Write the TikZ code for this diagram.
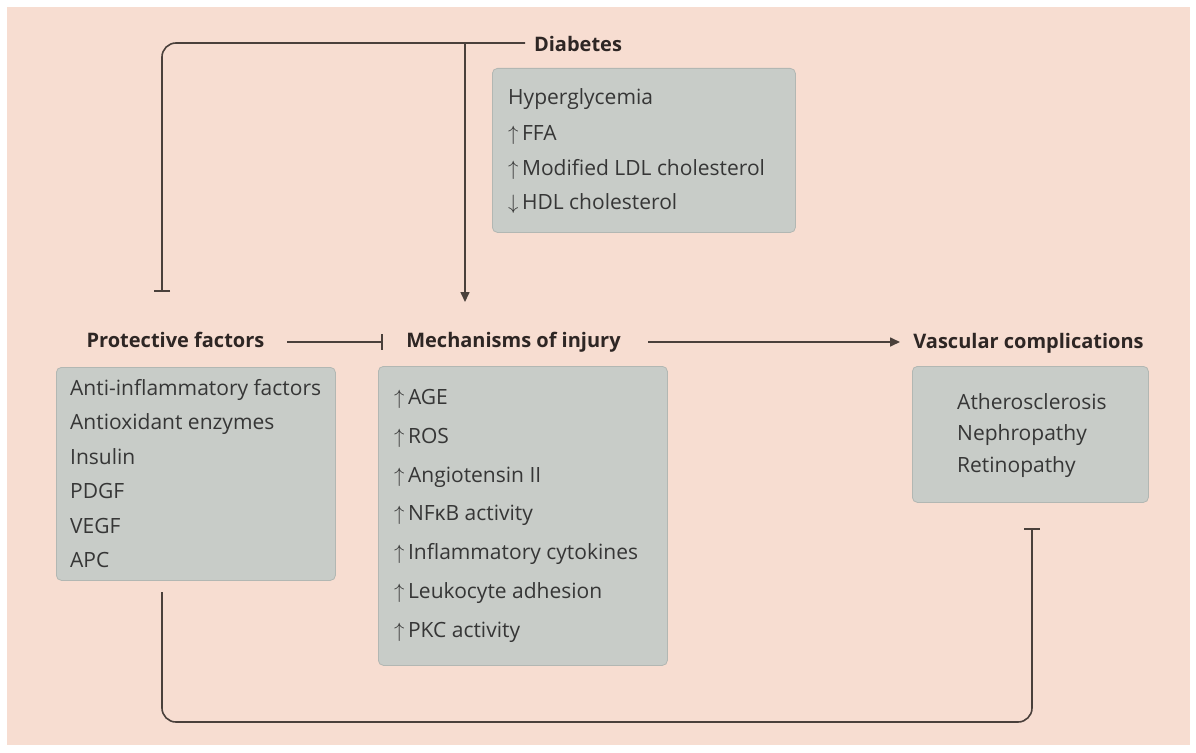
\documentclass[tikz,border=0pt]{standalone}
\usepackage{fontspec}
\setmainfont{Open Sans}
\usetikzlibrary{arrows.meta}
\definecolor{peach}{HTML}{F7DDD1}
\definecolor{boxfill}{HTML}{C8CCC8}
\definecolor{boxline}{HTML}{B2B7B3}
\definecolor{ink}{HTML}{4A403B}
\definecolor{txt}{HTML}{363636}
\definecolor{lblc}{HTML}{2E2624}
\begin{document}
\begin{tikzpicture}[x=1pt,y=-1pt,
  box/.style={draw=boxline, fill=boxfill, rounded corners=5pt, line width=0.8pt, anchor=north west, inner sep=0pt},
  item/.style={anchor=base west, inner sep=0pt, text=txt, font=\fontsize{21}{24}\selectfont},
  lbl/.style={anchor=base, inner sep=0pt, text=lblc, font=\fontsize{20}{24}\selectfont\bfseries},
  conn/.style={draw=ink, line width=1.6pt},
  tip/.style={-{Triangle[length=10pt,width=9pt]}},
  inh/.style={-{Bar[width=16pt]}}
]
\useasboundingbox (0,0) rectangle (1196,752);
\fill[white] (0,0) rectangle (1196,752);
\fill[peach] (7,7) rectangle (1190,745);

% boxes
\node[box, minimum width=303pt, minimum height=164pt] (dbox) at (492,68) {};
\node[box, minimum width=279pt, minimum height=213pt] (pbox) at (56,367) {};
\node[box, minimum width=289pt, minimum height=299pt] (mbox) at (378,366) {};
\node[box, minimum width=236pt, minimum height=136pt] (vbox) at (912,366) {};

% labels
\node[lbl] (dia) at (578,52) {Diabetes};
\node[lbl] (prot) at (175.5,347) {Protective factors};
\node[lbl] (mech) at (513.5,347) {Mechanisms of injury};
\node[lbl] (vasc) at (1028.5,348) {Vascular complications};

% diabetes items
\node[item] (d1) at (508,104) {Hyperglycemia};
\node[item] (d2) at (508,140) {$\uparrow$\,FFA};
\node[item] (d3) at (508,175) {$\uparrow$\,Modified LDL cholesterol};
\node[item] (d4) at (508,209) {$\downarrow$\,HDL cholesterol};

% protective items
\node[item] (p1) at (70,395) {Anti-inflammatory factors};
\node[item] (p2) at (70,429.5) {Antioxidant enzymes};
\node[item] (p3) at (70,464) {Insulin};
\node[item] (p4) at (70,498.5) {PDGF};
\node[item] (p5) at (70,533) {VEGF};
\node[item] (p6) at (70,567.5) {APC};

% mechanisms items
\node[item] (m1) at (394,404) {$\uparrow$\,AGE};
\node[item] (m2) at (394,443) {$\uparrow$\,ROS};
\node[item] (m3) at (394,482) {$\uparrow$\,Angiotensin II};
\node[item] (m4) at (394,520.5) {$\uparrow$\,NFκB activity};
\node[item] (m5) at (394,559) {$\uparrow$\,Inflammatory cytokines};
\node[item] (m6) at (394,598) {$\uparrow$\,Leukocyte adhesion};
\node[item] (m7) at (394,637) {$\uparrow$\,PKC activity};

% vascular items
\node[item] (v1) at (957,409) {Atherosclerosis};
\node[item] (v2) at (957,440.5) {Nephropathy};
\node[item] (v3) at (957,472) {Retinopathy};

% connector ends
\coordinate (dstart) at (525,43);
\coordinate (djoin) at (465,43);
\coordinate (mtop) at (465,302);
\coordinate (pbar) at (162,292);
\coordinate (pout) at (287,342);
\coordinate (min) at (383,342);
\coordinate (mout) at (648,342);
\coordinate (vin) at (900,342);
\coordinate (pbot) at (162,592);
\coordinate (vbar) at (1032,528);

% connectors
\draw[conn, inh, rounded corners=14pt] (dstart) -- (162,43) -- (pbar);
\draw[conn, tip] (djoin) -- (mtop);
\draw[conn, inh] (pout) -- (min);
\draw[conn, tip] (mout) -- (vin);
\draw[conn, inh, rounded corners=14pt] (pbot) -- (162,722) -- (1032,722) -- (vbar);
\end{tikzpicture}
\end{document}
